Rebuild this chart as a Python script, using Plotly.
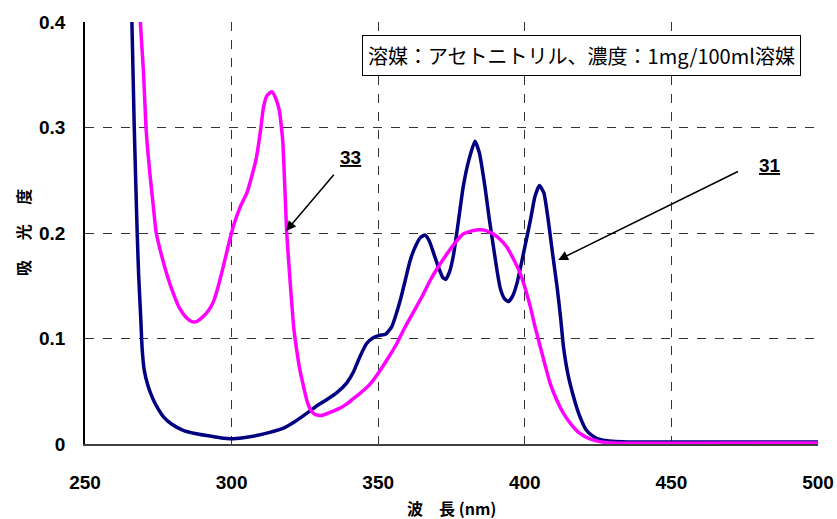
import plotly.graph_objects as go

# Sample 31 (navy)
wl_31 = [265.5, 266.0, 266.8, 267.8, 268.3, 269.0, 269.5, 270.2, 271.5, 273.3, 275.0, 276.7,
         279.5, 283.5, 287.5, 291.5, 296.0, 300.0, 304.0, 308.5, 313.0, 317.7, 321.5, 325.6,
         329.0, 332.4, 336.0, 339.3, 341.5, 343.8, 346.0, 348.4, 350.5, 352.5, 354.6, 356.0,
         357.5, 359.3, 360.9, 362.8, 364.5, 366.0, 367.5, 369.0, 370.5, 372.0, 373.0, 374.3,
         375.6, 377.3, 379.0, 381.0, 383.0, 384.5, 386.4, 387.8, 389.3, 390.5, 391.6, 393.0,
         394.4, 395.8, 397.3, 399.5, 401.9, 403.5, 405.0, 406.5, 408.0, 409.5, 411.0, 412.2,
         413.2, 414.8, 416.6, 418.5, 421.0, 423.5, 426.0, 430.0, 435.0, 500.0]
abs_31 = [0.45, 0.40, 0.30, 0.20, 0.16, 0.12, 0.09, 0.07, 0.055, 0.042, 0.033, 0.026,
          0.019, 0.013, 0.010, 0.008, 0.006, 0.005, 0.006, 0.008, 0.011, 0.015, 0.021, 0.029,
          0.036, 0.042, 0.049, 0.058, 0.068, 0.083, 0.095, 0.101, 0.103, 0.104, 0.111, 0.122,
          0.136, 0.156, 0.174, 0.188, 0.196, 0.198, 0.192, 0.180, 0.168, 0.158, 0.156, 0.163,
          0.178, 0.210, 0.244, 0.270, 0.287, 0.276, 0.244, 0.215, 0.187, 0.165, 0.148, 0.138,
          0.135, 0.140, 0.152, 0.180, 0.212, 0.235, 0.245, 0.238, 0.212, 0.180, 0.149, 0.120,
          0.092, 0.065, 0.045, 0.028, 0.013, 0.007, 0.004, 0.0025, 0.002, 0.002]

# Sample 33 (magenta)
wl_33 = [268.5, 268.9, 270.0, 270.8, 272.0, 273.5, 274.3, 276.0, 278.0, 280.5, 282.4, 284.5,
         286.5, 288.0, 290.0, 292.0, 293.8, 295.5, 297.5, 299.5, 301.0, 303.0, 305.2, 307.0,
         308.5, 310.0, 310.8, 312.0, 313.7, 315.0, 316.3, 317.0, 317.5, 318.2, 318.8, 319.8,
         320.5, 321.2, 322.2, 323.3, 324.5, 325.8, 327.0, 328.5, 330.7, 333.6, 337.0, 339.3,
         341.5, 343.8, 347.3, 350.7, 353.5, 356.3, 359.0, 362.0, 365.0, 367.7, 370.5, 373.4,
         376.0, 379.0, 382.0, 384.7, 387.0, 389.3, 391.5, 393.8, 396.0, 398.4, 400.2, 401.9,
         403.5, 405.3, 407.0, 408.7, 411.0, 413.2, 416.0, 418.8, 422.0, 426.0, 430.0, 500.0]
abs_33 = [0.45, 0.40, 0.35, 0.30, 0.26, 0.22, 0.20, 0.18, 0.16, 0.14, 0.128, 0.120,
          0.116, 0.116, 0.120, 0.126, 0.135, 0.150, 0.172, 0.195, 0.210, 0.225, 0.238, 0.255,
          0.272, 0.300, 0.318, 0.330, 0.334, 0.328, 0.316, 0.300, 0.285, 0.240, 0.200, 0.160,
          0.134, 0.110, 0.089, 0.070, 0.055, 0.040, 0.032, 0.028, 0.027, 0.030, 0.034, 0.038,
          0.043, 0.048, 0.057, 0.070, 0.082, 0.095, 0.110, 0.125, 0.140, 0.155, 0.168, 0.180,
          0.190, 0.199, 0.202, 0.203, 0.202, 0.199, 0.194, 0.187, 0.176, 0.162, 0.147, 0.130,
          0.111, 0.092, 0.074, 0.057, 0.041, 0.029, 0.018, 0.010, 0.005, 0.002, 0.001, 0.001]

x_ticks = [250, 300, 350, 400, 450, 500]
y_ticks = [0, 0.1, 0.2, 0.3, 0.4]
y_tick_text = ["0", "0.1", "0.2", "0.3", "0.4"]

x_title = "波　長 (nm)"
y_title = "吸　 光　 度"
box_text = "溶媒：アセトニトリル、濃度：1mg/100ml溶媒"

fig = go.Figure()
fig.add_trace(go.Scatter(x=wl_31, y=abs_31, mode="lines", name="31",
                         line=dict(color="#000080", width=3.5, shape="spline", smoothing=0.5)))
fig.add_trace(go.Scatter(x=wl_33, y=abs_33, mode="lines", name="33",
                         line=dict(color="#FF00FF", width=3.5, shape="spline", smoothing=0.5)))

tick_font = dict(family="Liberation Sans, Arial", size=19, color="black", weight="bold")
fig.update_layout(
    width=837, height=519,
    margin=dict(l=85, r=19, t=22, b=75),
    paper_bgcolor="white", plot_bgcolor="white",
    showlegend=False,
    xaxis=dict(range=[250, 500], tickvals=x_ticks, ticktext=[str(v) for v in x_ticks],
               tickfont=tick_font, showgrid=True, gridcolor="#333333", griddash="dash",
               gridwidth=1, showline=True, linecolor="#404040", linewidth=2,
               ticks="", ticklabelstandoff=20, zeroline=False, automargin=False),
    yaxis=dict(range=[0, 0.4], tickvals=y_ticks, ticktext=y_tick_text,
               tickfont=tick_font, showgrid=True, gridcolor="#333333", griddash="dash",
               gridwidth=1, showline=True, linecolor="black", linewidth=1.5,
               ticks="", ticklabelstandoff=14, zeroline=False, automargin=False),
)

ann_font = dict(family="Liberation Sans, Arial", size=19, color="black", weight="bold")
fig.add_annotation(x=318.6, y=0.202, ax=335.3, ay=0.2566, xref="x", yref="y",
                   axref="x", ayref="y", text="", showarrow=True, arrowhead=2,
                   arrowsize=1.3, arrowwidth=1.5, arrowcolor="black")
fig.add_annotation(x=411.4, y=0.1744, ax=473.2, ay=0.259, xref="x", yref="y",
                   axref="x", ayref="y", text="", showarrow=True, arrowhead=2,
                   arrowsize=1.3, arrowwidth=1.5, arrowcolor="black")
fig.add_annotation(x=340.4, y=0.272, xref="x", yref="y", text="<u>33</u>",
                   showarrow=False, font=ann_font)
fig.add_annotation(x=483.6, y=0.264, xref="x", yref="y", text="<u>31</u>",
                   showarrow=False, font=ann_font)
fig.add_annotation(x=419.5, y=0.3687, xref="x", yref="y", text=box_text, showarrow=False,
                   font=dict(family="Noto Sans CJK JP", size=20, color="black"),
                   bgcolor="white", bordercolor="black", borderwidth=1, borderpad=5)
fig.add_annotation(x=0.5, y=0, xref="paper", yref="paper", yshift=-64, text=x_title,
                   showarrow=False, yanchor="middle",
                   font=dict(family="Noto Sans CJK JP", size=16, color="black", weight="bold"))
fig.add_annotation(x=0, y=0.5, xref="paper", yref="paper", xshift=-62, text=y_title,
                   showarrow=False, textangle=-90, xanchor="center",
                   font=dict(family="Noto Sans CJK JP", size=16, color="black", weight="bold"))

fig.write_html("out.html", config={"displayModeBar": False},
               post_script="document.body.style.margin='0';document.body.style.padding='0';")
